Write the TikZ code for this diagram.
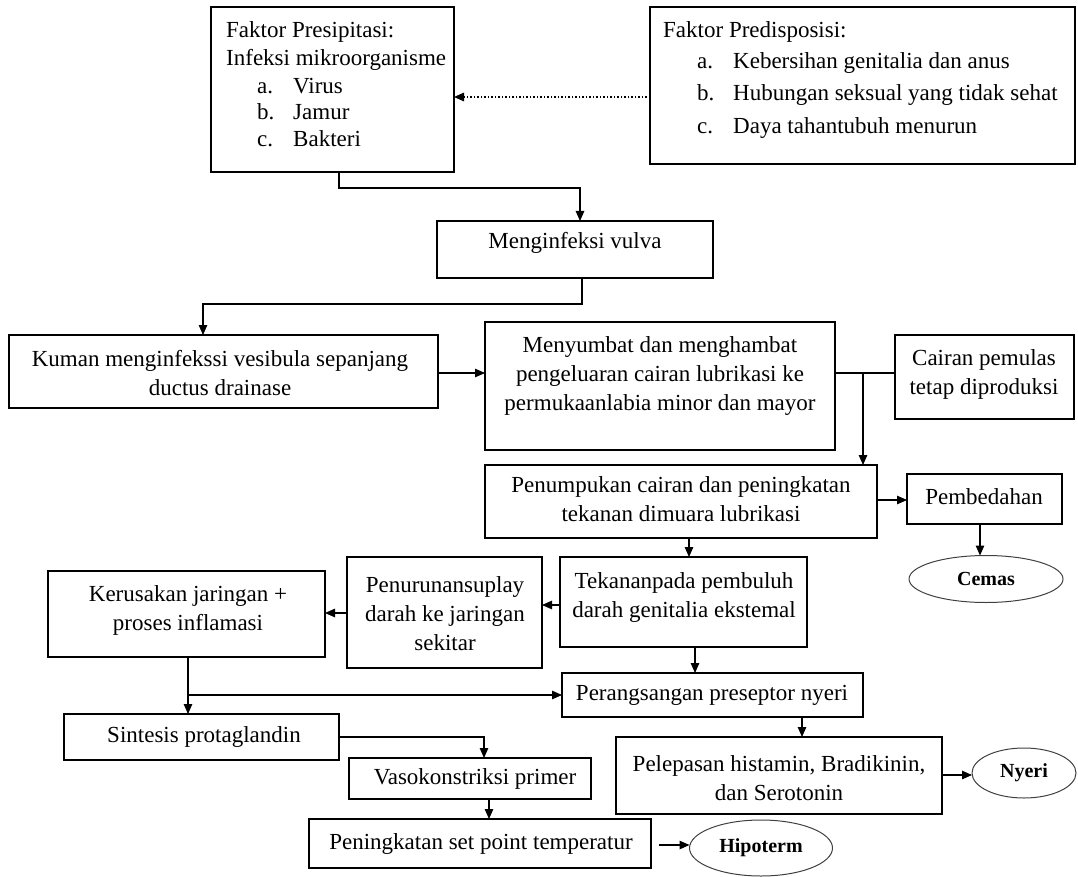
\documentclass[tikz,border=0pt]{standalone}
\usepackage{fontspec}
\setmainfont{Liberation Serif}
\usetikzlibrary{arrows.meta,shapes.geometric}
\begin{document}
\begin{tikzpicture}[x=1pt,y=-1pt,
  box/.style={draw, line width=1.1pt, anchor=north west, inner sep=0pt, outer sep=0pt},
  txt/.style={font=\fontsize{23}{29}\selectfont, align=center, inner sep=0pt},
  ltxt/.style={font=\fontsize{23}{29}\selectfont, anchor=west, inner sep=0pt, text height=16pt, text depth=5pt},
  oval/.style={draw=black!75, ellipse, line width=1pt, inner sep=0pt, outer sep=0pt, font=\fontsize{20}{22}\selectfont\bfseries},
  arr/.style={line width=1.1pt, -{Triangle[length=10pt,width=8.5pt]}},
  con/.style={line width=1.1pt},
  dotarr/.style={line width=1.5pt, dotted, -{Triangle[length=10pt,width=8.5pt]}}
]
\useasboundingbox (0,0) rectangle (1078,877);
% boxes
\node[box, minimum width=243pt, minimum height=165pt] (presip) at (211,7) {};
\node[box, minimum width=425pt, minimum height=157pt] (predis) at (650,7) {};
\node[box, minimum width=276pt, minimum height=57pt] (menginf) at (437,221) {};
\node[box, minimum width=429pt, minimum height=73pt] (kuman) at (9,335) {};
\node[box, minimum width=350pt, minimum height=128pt] (menyumbat) at (485,322) {};
\node[box, minimum width=179pt, minimum height=84pt] (cairan) at (895,335) {};
\node[box, minimum width=392pt, minimum height=73pt] (penumpukan) at (485,465) {};
\node[box, minimum width=155pt, minimum height=50pt] (pembedahan) at (907,474) {};
\node[box, minimum width=247pt, minimum height=90pt] (tekanan) at (560,557) {};
\node[box, minimum width=195pt, minimum height=111pt] (penurunan) at (347,557) {};
\node[box, minimum width=277pt, minimum height=86pt] (kerusakan) at (48,571) {};
\node[box, minimum width=301pt, minimum height=44pt] (perang) at (562,673) {};
\node[box, minimum width=326pt, minimum height=77pt] (pelepasan) at (616,737) {};
\node[box, minimum width=275pt, minimum height=46pt] (sintesis) at (64,714) {};
\node[box, minimum width=242pt, minimum height=41pt] (vaso) at (349,758) {};
\node[box, minimum width=342pt, minimum height=49pt] (peningkatan) at (309,819) {};
% ellipses
\node[oval, minimum width=154pt, minimum height=47pt] (cemas) at (986,579) {Cemas};
\node[oval, minimum width=104pt, minimum height=50pt] (nyeri) at (1024,773) {Nyeri};
\node[oval, minimum width=143pt, minimum height=56pt] (hipoterm) at (761,848) {Hipoterm};
% texts
\node[ltxt] (tp1) at (226,32) {Faktor Presipitasi:};
\node[ltxt] (tp2) at (226,60) {Infeksi mikroorganisme};
\node[ltxt] (tpa) at (257,88) {a.};
\node[ltxt] (tpav) at (293,88) {Virus};
\node[ltxt] (tpb) at (257,114) {b.};
\node[ltxt] (tpbv) at (293,114) {Jamur};
\node[ltxt] (tpc) at (257,141) {c.};
\node[ltxt] (tpcv) at (293,141) {Bakteri};
\node[ltxt] (td1) at (663,32) {Faktor Predisposisi:};
\node[ltxt] (tda) at (697,63) {a.};
\node[ltxt] (tdav) at (733,63) {Kebersihan genitalia dan anus};
\node[ltxt] (tdb) at (697,95) {b.};
\node[ltxt] (tdbv) at (733,95) {Hubungan seksual yang tidak sehat};
\node[ltxt] (tdc) at (697,128) {c.};
\node[ltxt] (tdcv) at (733,128) {Daya tahantubuh menurun};
\node[txt] (tmenginf) at (575,243) {Menginfeksi vulva};
\node[txt] (tkuman) at (220,373) {Kuman menginfekssi vesibula sepanjang\\ductus drainase};
\node[txt] (tmenyumbat) at (660,376) {Menyumbat dan menghambat\\pengeluaran cairan lubrikasi ke\\permukaanlabia minor dan mayor};
\node[txt] (tcairan) at (984,374) {Cairan pemulas\\tetap diproduksi};
\node[txt] (tpenumpukan) at (681,499) {Penumpukan cairan dan peningkatan\\tekanan dimuara lubrikasi};
\node[txt] (tpembedahan) at (984,497) {Pembedahan};
\node[txt] (ttekanan) at (684,597) {Tekananpada pembuluh\\darah genitalia ekstemal};
\node[txt] (tpenurunan) at (445,614) {Penurunansuplay\\darah ke jaringan\\sekitar};
\node[txt] (tkerusakan) at (188,610) {Kerusakan jaringan +\\proses inflamasi};
\node[txt] (tperang) at (712,695) {Perangsangan preseptor nyeri};
\node[txt] (tpelepasan) at (779,778) {Pelepasan histamin, Bradikinin,\\dan Serotonin};
\node[txt] (tsintesis) at (204,737) {Sintesis protaglandin};
\node[txt] (tvaso) at (475,779) {Vasokonstriksi primer};
\node[txt] (tpeningkatan) at (481,844) {Peningkatan set point temperatur};
% junctions
\coordinate (j1) at (863,373);
\coordinate (j2) at (188,695);
% connectors
\draw[dotarr] (predis.west |- 0,97) -- (presip.east |- 0,97);
\draw[arr] (presip.south -| 339,0) |- (580,188) -- (menginf.north -| 580,0);
\draw[arr] (menginf.south -| 582,0) -- (582,304) -| (kuman.north -| 203,0);
\draw[arr] (kuman.east |- 0,373) -- (menyumbat.west |- 0,373);
\draw[con] (menyumbat.east |- 0,373) -- (cairan.west |- 0,373);
\draw[arr] (j1) -- (penumpukan.north -| j1);
\draw[arr] (penumpukan.east |- 0,500) -- (pembedahan.west |- 0,500);
\draw[arr] (pembedahan.south -| 980,0) -- (cemas.north -| 980,0);
\draw[arr] (penumpukan.south -| 689,0) -- (tekanan.north -| 689,0);
\draw[arr] (tekanan.west |- 0,605) -- (penurunan.east |- 0,605);
\draw[arr] (penurunan.west |- 0,613) -- (kerusakan.east |- 0,613);
\draw[arr] (kerusakan.south -| j2) -- (sintesis.north -| j2);
\draw[arr] (j2) -- (perang.west |- j2);
\draw[arr] (tekanan.south -| 695,0) -- (perang.north -| 695,0);
\draw[arr] (perang.south -| 802,0) -- (pelepasan.north -| 802,0);
\draw[arr] (pelepasan.east |- 0,775) -- (nyeri.west |- 0,775);
\draw[arr] (sintesis.east |- 0,737) -| (vaso.north -| 484,0);
\draw[arr] (vaso.south -| 489,0) -- (peningkatan.north -| 489,0);
\draw[arr] ([xshift=8pt]peningkatan.east |- 0,845) -- (hipoterm.west |- 0,845);
\end{tikzpicture}
\end{document}
